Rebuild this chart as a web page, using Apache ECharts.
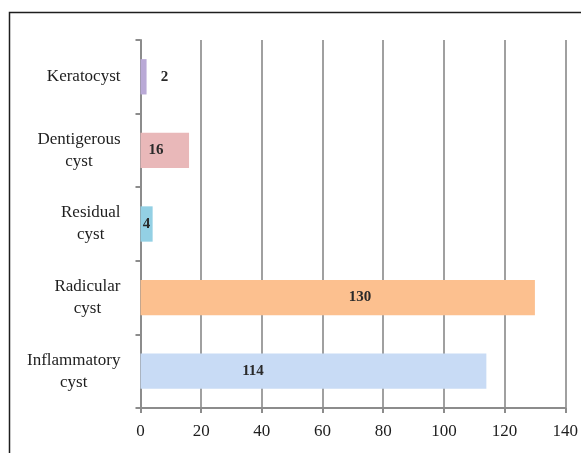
<!DOCTYPE html>
<html>
<head>
<meta charset="utf-8">
<script src="https://cdn.jsdelivr.net/npm/echarts@6/dist/echarts.min.js"></script>
<style>
  html, body { margin: 0; padding: 0; background: #fff; }
  #chart { width: 581px; height: 453px; }
</style>
</head>
<body>
<div id="chart"></div>
<script>
// Cyst types, top to bottom
const categories = ['Keratocyst', 'Dentigerous\ncyst', 'Residual\ncyst', 'Radicular\ncyst', 'Inflammatory\ncyst'];
// Number of cases per type
const counts = [2, 16, 4, 130, 114];
// Value axis ticks
const axisMin = 0;
const axisMax = 140;
const axisStep = 20;

// Bar fill per category
const barColors = ['#b9a9d6', '#e9b8b9', '#93d0e4', '#fcc08f', '#c8dbf5'];
// Horizontal placement (px from bar start) of each value label's centre
const labelShift = [24, 15.5, 6, 219.5, 112.5];

const serif = '"Liberation Serif", "Times New Roman", serif';

const chart = echarts.init(document.getElementById('chart'), null, { renderer: 'canvas' });

chart.setOption({
  animation: false,
  backgroundColor: '#ffffff',
  grid: { left: 140.5, right: 12, top: 40, bottom: 45, containLabel: false },
  graphic: [{
    type: 'rect',
    shape: { x: 9.5, y: 12.5, width: 640, height: 520 },
    style: { fill: 'none', stroke: '#1e1e1e', lineWidth: 1.5 },
    silent: true
  }],
  xAxis: {
    type: 'value',
    min: axisMin,
    max: axisMax,
    interval: axisStep,
    axisLine: { show: true, lineStyle: { color: '#8c8c8c', width: 2 } },
    axisTick: { show: true, length: 5, lineStyle: { color: '#8c8c8c', width: 2 } },
    splitLine: { show: true, lineStyle: { color: '#a0a0a0', width: 2 } },
    axisLabel: { color: '#1e1e1e', fontFamily: serif, fontSize: 17, margin: 15 }
  },
  yAxis: {
    type: 'category',
    inverse: true,
    data: categories,
    axisLine: { show: true, lineStyle: { color: '#8c8c8c', width: 2 } },
    axisTick: { show: true, inside: false, length: 5, lineStyle: { color: '#8c8c8c', width: 2 } },
    splitLine: { show: false },
    axisLabel: {
      align: 'right',
      margin: 20,
      color: '#1e1e1e',
      fontFamily: serif,
      fontSize: 17,
      lineHeight: 22,
      formatter: v => v.split('\n').map(s => '{c|' + s + '}').join('\n'),
      rich: {
        c: { align: 'center', fontFamily: serif, fontSize: 17, lineHeight: 22, color: '#1e1e1e' }
      }
    }
  },
  series: [{
    type: 'bar',
    barWidth: '48%',
    data: counts.map((v, i) => ({
      value: v,
      itemStyle: { color: barColors[i] },
      label: {
        show: true,
        position: [labelShift[i], '50%'],
        align: 'center',
        verticalAlign: 'middle',
        formatter: String(v),
        color: '#2a2a2a',
        fontFamily: serif,
        fontSize: 15,
        fontWeight: 'bold'
      }
    }))
  }]
});
</script>
</body>
</html>
